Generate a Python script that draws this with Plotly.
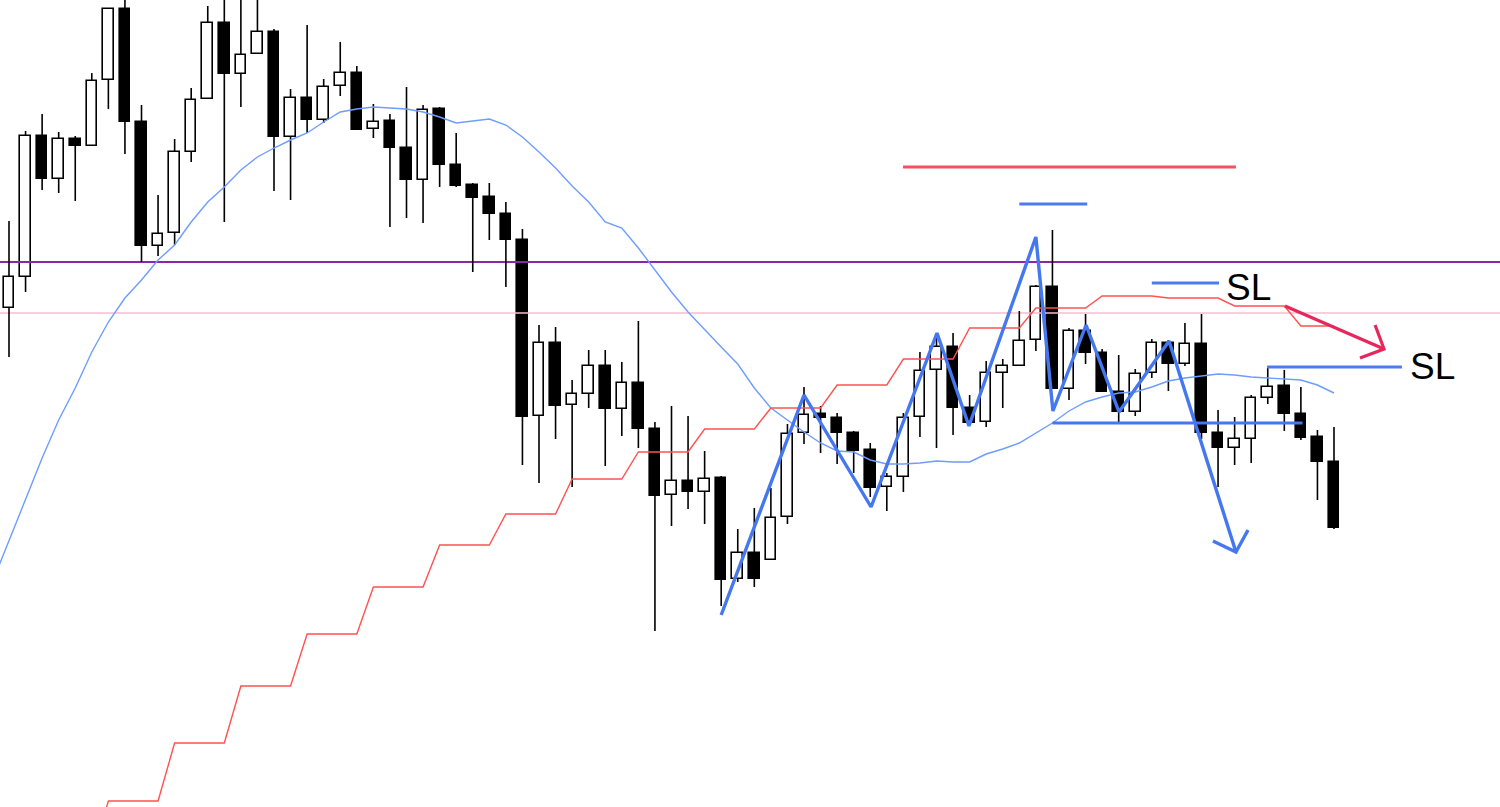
import plotly.graph_objects as go

TOP = 807
idx = list(range(81))

open_lv = [308, 277, 136, 179, 139, 146, 80, 9, 122, 246, 233, 152, 99, 23, 74, 54, 32, 137, 98, 120,
           86, 73, 129, 121, 148, 180, 109, 165, 185, 197, 214, 240, 416, 343, 405, 394, 366, 409, 383, 429,
           495, 481, 492, 478, 579, 553, 560, 517, 433, 414, 418, 433, 450, 487, 477, 417, 370, 347, 408, 422,
           373, 366, 340, 287, 389, 331, 353, 392, 412, 373, 343, 364, 344, 433, 448, 439, 398, 386, 414, 437, 462]
high_lv = [221, 131, 114, 132, 136, 73, 8, -5, 105, 195, 139, 88, 6, -5, -5, -5, 29, 89, 25, 79,
           42, 66, 104, 114, 87, 105, 107, 133, 183, 183, 202, 229, 325, 327, 380, 350, 350, 362, 321, 422,
           406, 416, 451, 476, 529, 508, 488, 424, 387, 406, 413, 431, 443, 473, 413, 352, 333, 333, 395, 361,
           359, 311, 285, 230, 328, 314, 349, 355, 369, 339, 340, 323, 314, 410, 417, 395, 368, 370, 387, 430, 427]
low_lv = [357, 292, 190, 193, 201, 146, 109, 154, 262, 256, 245, 162, 99, 222, 107, 54, 191, 200, 133, 123,
          96, 130, 138, 227, 218, 223, 187, 187, 272, 240, 287, 465, 483, 439, 487, 408, 466, 436, 448, 631,
          526, 509, 524, 606, 582, 587, 560, 524, 444, 453, 464, 473, 497, 511, 492, 437, 448, 435, 423, 427,
          408, 366, 351, 389, 400, 364, 392, 422, 416, 378, 391, 366, 439, 487, 465, 463, 404, 431, 440, 500, 529]
close_lv = [277, 136, 179, 139, 146, 81, 9, 122, 246, 234, 152, 100, 23, 74, 55, 32, 137, 98, 120, 87,
            73, 130, 122, 148, 180, 110, 165, 186, 198, 214, 240, 417, 343, 406, 394, 366, 409, 383, 429, 496,
            481, 492, 479, 580, 553, 579, 518, 434, 415, 418, 433, 451, 488, 477, 418, 371, 347, 408, 423, 373,
            366, 341, 287, 389, 331, 353, 392, 412, 374, 343, 364, 344, 433, 448, 439, 398, 387, 414, 438, 462, 528]

# thin blue moving average (index -1 .. 80)
ma_idx = [-1] + idx
ma_lv = [582, 540, 500, 458, 420, 388, 352, 322, 298, 280, 260, 245, 222, 202, 187, 170, 157, 148, 140, 133,
         122, 112, 109, 107, 108, 109, 112, 117, 123, 121, 119, 125, 137, 152, 168, 186, 202, 222, 228, 248,
         270, 292, 312, 330, 347, 364, 388, 408, 420, 432, 443, 451, 452, 460, 464, 464, 463, 461, 462, 462,
         454, 449, 443, 433, 423, 411, 402, 397, 393, 392, 387, 381, 378, 376, 374, 375, 377, 378, 379, 380,
         385, 393]

# red stepped line (index 5 .. 80)
red_idx = list(range(5, 81))
red_lv = [856, 801, 801, 801, 801, 743, 743, 743, 743, 686, 686, 686, 686, 634, 634, 634, 634,
          587, 587, 587, 587, 545, 545, 545, 545, 514, 514, 514, 514, 479, 479, 479, 479,
          452, 452, 452, 452, 429, 429, 429, 429, 408, 408, 408, 408, 385, 385, 385, 385,
          359, 359, 359, 359, 328, 328, 328, 328, 308, 308, 308, 308, 296, 296, 296, 296,
          298, 298, 298, 298, 306, 306, 306, 306, 326, 326, 326]

# hand-drawn analysis marks (candle index, level)
zig_idx = [43, 48, 52.05, 56.03, 57.96, 62, 63.03, 65.03, 67.02, 70.04, 74.08]
zig_lv = [615, 395, 507, 333, 426, 237, 411, 325, 412, 341, 552]
zig_head_idx = [72.69, 74.08, 74.81]
zig_head_lv = [541, 552, 530]
arrow_idx = [77.04, 83.02]
arrow_lv = [306, 349]
arrow_head_idx = [82.48, 83.02, 81.57]
arrow_head_lv = [325, 349, 358]
purple_lv = 262
pink_lv = 313
red_top = ([53.98, 74.08], 167)
blue_short = ([61.0, 65.1], 204)
blue_neck = ([63.0, 78.1], 423)
sl1 = ([69.0, 73.06], 283)
sl2 = ([75.96, 84.1], 367)
sl_labels = [("SL", 73.36, 287), ("SL", 84.47, 366)]


def lv(a):
    return [TOP - v for v in a]


O, H, L, C = lv(open_lv), lv(high_lv), lv(low_lv), lv(close_lv)

fig = go.Figure()

# horizontal level lines
fig.add_trace(go.Scatter(x=[-2, 92], y=[TOP - purple_lv] * 2, mode="lines",
                         line=dict(color="#8e24aa", width=2), hoverinfo="skip"))
fig.add_trace(go.Scatter(x=[-2, 92], y=[TOP - pink_lv] * 2, mode="lines",
                         line=dict(color="#f8bbd0", width=1.5), hoverinfo="skip"))

# candle bodies
body_base, body_h, body_col = [], [], []
wx, wy = [], []
for i in idx:
    lo, hi = min(O[i], C[i]), max(O[i], C[i])
    body_base.append(lo)
    body_h.append(max(hi - lo, 0.8))
    body_col.append("white" if C[i] > O[i] else "black")
    if H[i] > hi:
        wx += [i, i, None]
        wy += [hi, H[i], None]
    if L[i] < lo:
        wx += [i, i, None]
        wy += [L[i], lo, None]

fig.add_trace(go.Bar(x=idx, y=body_h, base=body_base, width=0.64,
                     marker=dict(color=body_col, line=dict(color="black", width=1.6)),
                     hoverinfo="skip"))
fig.add_trace(go.Scatter(x=wx, y=wy, mode="lines", line=dict(color="black", width=1.6),
                         hoverinfo="skip"))

# indicator lines
fig.add_trace(go.Scatter(x=ma_idx, y=lv(ma_lv), mode="lines",
                         line=dict(color="#6e9cff", width=1.4), hoverinfo="skip"))
fig.add_trace(go.Scatter(x=red_idx, y=lv(red_lv), mode="lines",
                         line=dict(color="#ff5252", width=1.4), hoverinfo="skip"))

# drawings
def seg(xs, level, color, width=3.2):
    fig.add_trace(go.Scatter(x=xs, y=[TOP - level] * 2, mode="lines",
                             line=dict(color=color, width=width), hoverinfo="skip"))

seg(red_top[0], red_top[1], "#f4505d")
seg(blue_short[0], blue_short[1], "#4a7cf0")
seg(blue_neck[0], blue_neck[1], "#4477f0")
seg(sl1[0], sl1[1], "#4a7cf0")
seg(sl2[0], sl2[1], "#4a7cf0")

fig.add_trace(go.Scatter(x=zig_idx, y=lv(zig_lv), mode="lines",
                         line=dict(color="#4477f0", width=3.4), hoverinfo="skip"))
fig.add_trace(go.Scatter(x=zig_head_idx, y=lv(zig_head_lv), mode="lines",
                         line=dict(color="#4477f0", width=3.4), hoverinfo="skip"))
fig.add_trace(go.Scatter(x=arrow_idx, y=lv(arrow_lv), mode="lines",
                         line=dict(color="#e8265e", width=3.2), hoverinfo="skip"))
fig.add_trace(go.Scatter(x=arrow_head_idx, y=lv(arrow_head_lv), mode="lines",
                         line=dict(color="#e8265e", width=3.2), hoverinfo="skip"))

for txt, xi, yl in sl_labels:
    fig.add_annotation(x=xi, y=TOP - yl, text=txt, showarrow=False, xanchor="left", yanchor="middle",
                       font=dict(family="Liberation Sans, Arial, sans-serif", size=37, color="black"))

fig.update_layout(
    width=1500, height=807, margin=dict(l=0, r=0, t=0, b=0),
    paper_bgcolor="white", plot_bgcolor="white", showlegend=False,
    xaxis=dict(range=[(0 - 9) / 16.5625, (1500 - 9) / 16.5625], visible=False, fixedrange=True),
    yaxis=dict(range=[0, TOP], visible=False, fixedrange=True),
    bargap=0,
)

fig.write_html("out.html", config={"displayModeBar": False},
               post_script="document.body.style.margin='0';document.body.style.overflow='hidden';")
